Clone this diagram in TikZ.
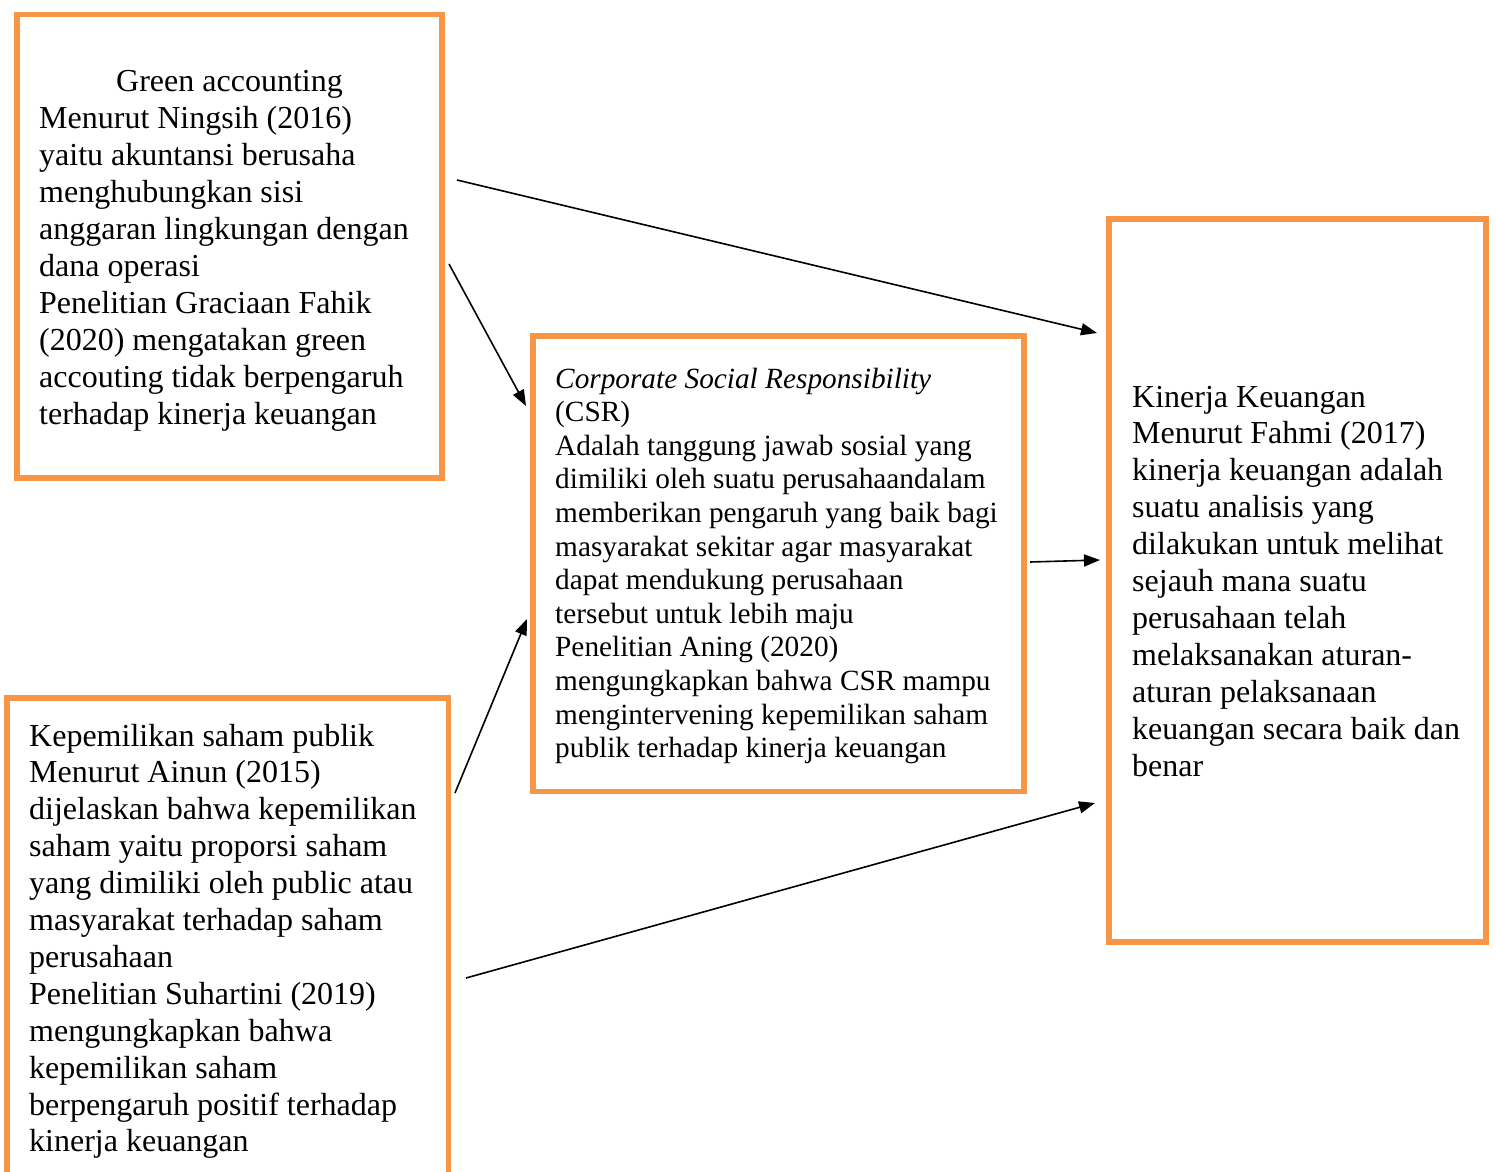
\documentclass[tikz,border=0pt]{standalone}
\usepackage{fontspec}
\setmainfont{Liberation Serif}
\usetikzlibrary{arrows.meta}
\definecolor{boxorange}{HTML}{F79646}
\begin{document}
\begin{tikzpicture}[x=1pt,y=-1pt,
  box/.style={draw=boxorange, line width=5.5pt, outer sep=0pt, inner sep=0pt, anchor=north west},
  txt/.style={anchor=base west, inner sep=0pt, align=left},
  big/.style={font=\fontsize{32}{36.9}\selectfont},
  mid/.style={font=\fontsize{29.3}{33.6}\selectfont},
  arr/.style={line width=1.6pt, -{Triangle[length=16pt,width=12pt]}}]
\useasboundingbox[fill=white] (0,0) rectangle (1496,1172);

% boxes
\node[box, minimum width=425pt, minimum height=463.5pt] (ga) at (17,14.5) {};
\node[box, minimum width=491pt, minimum height=455.5pt] (csr) at (533,336) {};
\node[box, minimum width=377pt, minimum height=723pt] (kk) at (1109,219) {};
\node[box, minimum width=441.5pt, minimum height=520pt] (ksp) at (7,698) {};

% texts (anchored at the baseline of the last line)
\node[txt, big] (gatext) at (39,424) {\hspace*{77pt}Green accounting\\
Menurut Ningsih (2016)\\
yaitu akuntansi berusaha\\
menghubungkan sisi\\
anggaran lingkungan dengan\\
dana operasi\\
Penelitian Graciaan Fahik\\
(2020) mengatakan green\\
accouting tidak berpengaruh\\
terhadap kinerja keuangan};

\node[txt, mid] (csrtext) at (555,757.6) {\textit{Corporate Social Responsibility}\\
(CSR)\\
Adalah tanggung jawab sosial yang\\
dimiliki oleh suatu perusahaandalam\\
memberikan pengaruh yang baik bagi\\
masyarakat sekitar agar masyarakat\\
dapat mendukung perusahaan\\
tersebut untuk lebih maju\\
Penelitian Aning (2020)\\
mengungkapkan bahwa CSR mampu\\
mengintervening kepemilikan saham\\
publik terhadap kinerja keuangan};

\node[txt, big] (kktext) at (1132,776) {Kinerja Keuangan\\
Menurut Fahmi (2017)\\
kinerja keuangan adalah\\
suatu analisis yang\\
dilakukan untuk melihat\\
sejauh mana suatu\\
perusahaan telah\\
melaksanakan aturan-\\
aturan pelaksanaan\\
keuangan secara baik dan\\
benar};

\node[txt, big] (ksptext) at (29,1151.9) {Kepemilikan saham publik\\
Menurut Ainun (2015)\\
dijelaskan bahwa kepemilikan\\
saham yaitu proporsi saham\\
yang dimiliki oleh public atau\\
masyarakat terhadap saham\\
perusahaan\\
Penelitian Suhartini (2019)\\
mengungkapkan bahwa\\
kepemilikan saham\\
berpengaruh positif terhadap\\
kinerja keuangan};

% arrow end points
\coordinate (a1s) at (457,180);  \coordinate (a1e) at (1097,333);
\coordinate (a2s) at (449,264);  \coordinate (a2e) at (526,406);
\coordinate (a3s) at (455,793);  \coordinate (a3e) at (527,619);
\coordinate (a4s) at (1030,562); \coordinate (a4e) at (1100,560);
\coordinate (a5s) at (466,978);  \coordinate (a5e) at (1095,803);

\draw[arr] (a1s) -- (a1e);
\draw[arr] (a2s) -- (a2e);
\draw[arr] (a3s) -- (a3e);
\draw[arr] (a4s) -- (a4e);
\draw[arr] (a5s) -- (a5e);
\end{tikzpicture}
\end{document}
